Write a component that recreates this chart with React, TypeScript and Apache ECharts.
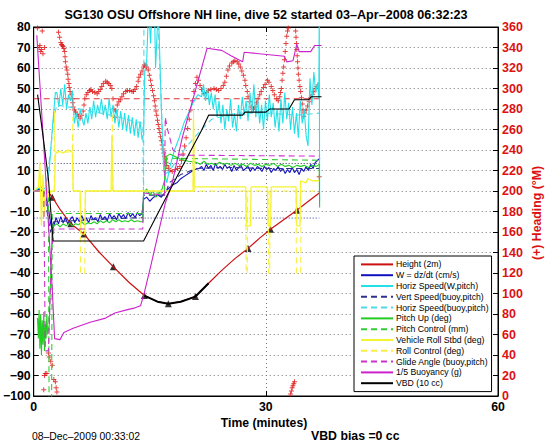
import React, { useEffect, useRef } from "react";
import * as echarts from "echarts";

const FONT = "'Liberation Sans', Arial, Helvetica, sans-serif";

// ---- Height (2m) ----
const heightT = [1.8, 2.4, 3.5, 4.8, 6.5, 8.5, 10.3, 12.3, 14.3, 16.0, 17.4, 19.0, 20.9, 22.6, 24.3, 26.0, 27.7, 29.2, 30.6, 32.3, 34.0, 35.5, 36.9];
const heightV = [0, -3, -9.5, -16, -21, -30, -37, -44.5, -51, -54, -55, -54, -51.5, -45, -38.7, -33, -28, -23, -18.7, -14, -9.4, -5, -1];
const heightMarkerIdx = [1, 3, 4, 6, 8, 10, 12, 16, 18, 20];

// ---- VBD (10 cc) ----
const vbdT = [0.5, 1.2, 1.9, 2.5, 14.2, 18.3, 21.7, 22.6, 27.0, 27.3, 30.0, 30.5, 33.0, 33.7, 35.5, 35.9, 37.2];
const vbdV = [47, 27, 6, -24.4, -24.4, 5.5, 29.6, 37, 37, 38.5, 38.5, 40, 40, 44.5, 44.5, 46, 46];

// ---- 1/5 Buoyancy (g) ----
const buoyT = [0.4, 1.5, 2.4, 2.7, 3.4, 3.9, 5.1, 7.3, 9.3, 10.5, 12.0, 13.1, 13.8, 14.2, 15.1, 16.2, 17.0, 17.9, 19.2, 22.4, 24.3, 25.5, 27.0, 27.2, 32.4, 32.7, 33.5, 34.0, 34.3, 35.8, 36.3, 37.2];
const buoyV = [76, 10, -48, -72, -72.5, -69, -67, -64, -62, -59.5, -58, -57, -56, -51, -37, -19, -6, 4, 26, 69.6, 68.6, 66, 63, 67.7, 65.7, 63, 63.5, 71.6, 68, 68, 71, 71];

// ---- W = dz/dt (cm/s) ----
const wPreT = [0, 0.8, 1.4, 1.8, 2.2, 2.4];
const wPreV = [0, 1, -1, -6, -16, -19];
const wDescStart = 2.6, wStep = 0.3;
const wDescV = [-17, -13, -16, -12.5, -15.5, -13, -16, -14, -12.5, -15.5, -13, -15, -12, -14.5, -13, -15.5, -12, -14, -13, -15, -11.5, -14, -12.5, -14.5, -11, -13.5, -12, -14, -11, -13, -11.5, -13.5, -10.5, -12.5, -11, -13, -10.5, -12, -11];
const wMidT = [14.2, 14.6, 15.0, 15.5, 16.0, 16.5, 17.0, 17.5, 18.0, 18.5, 19.0, 19.6, 20.2, 20.8, 21.4];
const wMidV = [-4, -3, -5, -3, -2, -3, -0.5, 1.5, 3, 4, 6, 7.5, 9, 10.5, 11];
const wAscStart = 21.7;
const wAscV = [12, 10, 13, 11, 12.5, 10, 13.5, 11, 12, 10.5, 13, 11, 12, 9.5, 12.5, 10, 11.5, 12.5, 10, 11, 12, 9.5, 11.5, 10, 12, 11, 9.5, 12, 10.5, 11.5, 9, 11, 10, 12, 9.5, 11, 8.5, 10.5, 9, 11.5, 9, 10.5, 8, 11, 9.5, 12, 10, 13, 11, 14, 15];
const wEndT = [37.0];
const wEndV = [16];

// ---- Horiz Speed (W,pitch) ----
const hsPreT = [0, 1.0, 1.5, 2.0, 2.4, 2.8];
const hsPreV = [0, 2, 1, 10, 30, 48];
const hsDescStart = 3.0, hsStep = 0.25;
const hsDescV = [48, 41, 50, 42, 52, 40, 47, 44, 49, 33, 38, 31, 40, 35, 32, 38, 33, 41, 35, 44, 36, 42, 38, 45, 37, 42, 35, 45, 36, 42, 33, 40, 31, 39, 30, 38, 29, 37, 28, 36, 27, 35, 26, 34, 25];
const hsMidT = [14.2, 14.35, 14.6, 14.85, 15.1, 15.3, 15.6, 15.75, 16.1, 16.5, 16.8, 17.2, 17.6, 18.2, 18.8, 19.4, 20.0, 20.6, 21.2];
const hsMidV = [28, 58, 63, 90, 72, 90, 90, 60, 90, 40, 10, 4, 12, 20, 26, 33, 38, 43, 47];
const hsAscStart = 21.7;
const hsAscV = [46, 52, 44, 50, 42, 48, 40, 47, 36, 44, 33, 42, 30, 40, 34, 45, 31, 38, 29, 42, 35, 46, 37, 44, 34, 48, 38, 52, 36, 45, 33, 42, 30, 44, 34, 47, 36, 43, 31, 40, 29, 45, 33, 48, 35, 43, 30, 41, 28, 38, 26, 44, 33, 40, 27, 22, 55, 42, 58, 48, 53];
const hsEndT = [36.85, 36.9, 36.95];
const hsEndV = [45, 90, -5];

// ---- Vert Speed (buoy,pitch) ----
const vsbT = [0, 1.4, 1.8, 2.2, 2.6, 5, 10, 14.1, 14.2, 17, 17.5, 19, 21, 25, 30, 36.9];
const vsbV = [0, 0, -12, -20, -15, -14.5, -13.5, -13, -2, -2, 4, 8, 11, 11.5, 11, 11];

// ---- Horiz Speed (buoy,pitch) ----
const hsbT = [0, 1.5, 2.2, 2.6, 3.0, 6.0, 10.0, 14.1, 14.2, 14.25, 16.0, 16.5, 16.9, 17.6, 19.0, 20.5, 21.7, 23.0, 26.0, 30.0, 34.0, 36.9];
const hsbV = [0, 0, 20, 36, 42, 40, 37, 33, -5, 90, 90, 40, 8, 10, 18, 25, 30, 35, 38, 38, 37, 38];

// ---- Pitch Up (deg) ----
const pPreT = [0.5, 0.6, 0.7, 0.8, 0.9, 1.0, 1.1, 1.2, 1.3, 1.4, 1.5, 1.6, 1.7, 1.8, 2.0, 2.2, 2.4];
const pPreV = [-62, -72, -58, -77, -60, -80, -63, -75, -59, -78, -65, -72, -60, -70, -66, -40, -18];
const pDescStart = 2.6, pDescStep = 0.4;
const pDescV = [-17, -16, -17.5, -16, -17, -15.5, -17, -16, -16.5, -15, -16.5, -15.5, -16, -15, -16, -14.5, -15.5, -14.5, -15.5, -14, -15, -14, -15, -14.5, -15, -14, -15, -14.5, -15];
const pMidT = [14.1, 14.2, 14.6, 15.0, 15.4, 15.8, 16.2, 16.6, 16.9, 17.2, 17.6, 18.2, 19.0, 20.0];
const pMidV = [-15, -1, 1, -2, 0, -3, -1, 1, 5, 17, 18, 17, 15.5, 14.5];
const pAscStart = 21.0, pAscStep = 0.5;
const pAscV = [14, 13, 14.5, 13, 13.5, 12.5, 14, 13, 13.5, 12.5, 13.5, 12.5, 13, 12, 13.5, 12.5, 13, 12, 13, 12.5, 13.5, 12, 13, 12, 12.5, 11.5, 12.5, 12, 12.5, 11.5, 12.5, 12];
const pEndT = [36.9, 36.95];
const pEndV = [13, -8];

// ---- Pitch Control (mm) ----
const pcT = [0, 1.9, 2.0, 2.3, 2.4, 14.1, 14.2, 16.9, 17.0, 36.9];
const pcV = [0, 0, -120, -120, -11, -11, -1, -1, 16, 15];

// ---- Vehicle Roll Stbd (deg) ----
const rollT = [0, 0.6, 0.8, 1.0, 1.2, 1.4, 1.6, 1.9, 2.2, 2.7, 2.8, 3.3, 3.8, 4.4, 5.0, 5.1, 6.0, 6.1, 6.6, 6.7, 10.0, 10.1, 10.25, 20.6, 20.65, 20.75, 27.4, 27.5, 28.0, 28.1, 30.2, 30.3, 30.6, 30.7, 33.9, 34.0, 34.4, 34.5, 35.2, 35.4, 36.0, 36.9];
const rollV = [0, 2, 14, -17, 8, -12, 5, -3, 0, 0, 18, 19.5, 18.5, 20, 19, 0, 0, -21, -21, 0, 0, 27, 0, 0, 35, 2, 2, -17, -17, 2, 2, -17, -17, 2, 2, -17, -17, 5, 4, 6, 5, 5];

// ---- Roll Control (deg) ----
const rcT = [0, 2.65, 2.7, 2.75, 5.0, 5.05, 5.1, 6.0, 6.05, 6.6, 6.65, 10.1, 10.15, 10.25, 20.6, 20.65, 20.75, 27.4, 27.45, 27.6, 27.65, 30.3, 30.35, 30.5, 30.55, 33.9, 33.95, 34.5, 34.55, 36.9];
const rcV = [0, 0, 39, 19, 19, 36, 0, 0, -40, -40, 0, 0, 38, 0, 0, 39, 0, 0, -40, -40, 0, 0, -40, -40, 0, 0, -40, -40, 0, 0];

// ---- Glide Angle (buoy,pitch) ----
const gaT = [0, 1.3, 1.5, 1.9, 2.3, 2.6, 14.1, 14.2, 16.9, 17.0, 17.3, 18.0, 19.0, 36.9];
const gaV = [0, 0, -78, -78, -30, -18.5, -18.5, -1, -2, 36, 30, 20, 17.5, 17];

// ---- Reference lines ----
const refRedT = [0, 36.9];
const refRedV = [45, 45];
const refUpT = [0, 36.9];
const refUpV = [13.4, 13.4];
const refDownT = [0, 36.9];
const refDownV = [-13.2, -13.2];

// ---- Heading (right axis, deg M) ----
const headT = [0.5, 1.1, 0.7, 0.8, 0.9, 1.0, 1.2, 1.4,
  1.3, 1.5, 1.4, 1.7, 1.9, 2.0, 2.2, 2.4, 2.6, 2.8, 2.9, 3.0,
  3.2, 3.35, 3.5, 3.6, 3.7, 3.8, 3.9, 4.0, 4.05, 4.1, 4.2, 4.3, 4.4, 4.45, 4.55, 4.6, 4.7, 4.85, 5.0, 5.05, 5.1, 5.25, 5.4, 5.6, 5.8, 6.0,
  6.2, 6.4, 6.5, 6.6, 6.8, 7.0, 7.2, 7.4, 7.6, 7.9, 8.2, 8.4, 8.6, 8.8, 9.0, 9.3, 9.5, 9.7, 9.9, 10.1, 10.25, 10.35, 10.45, 10.6, 10.8, 11.0, 11.2, 11.4, 11.6, 11.9, 12.1, 12.4, 12.7, 12.9, 13.1, 13.3, 13.5, 13.6, 13.8, 14.0, 14.2, 14.3,
  14.4, 14.6, 14.8, 14.95, 15.1, 15.2, 15.35, 15.5, 15.6, 15.7, 15.8, 15.9, 16.0, 16.1, 16.2, 16.3, 16.4, 16.5, 16.6, 16.7, 16.8, 16.9, 17.0, 17.1, 17.2, 17.4, 17.6, 17.9, 18.3, 18.6, 18.9, 19.1, 19.3, 19.5, 19.7, 19.9, 20.1, 20.3, 20.5, 20.7, 20.9, 21.1,
  21.3, 21.5, 21.7, 22.0, 22.3, 22.6, 22.9, 23.3, 23.6, 23.9, 24.2, 24.5, 24.7, 24.9, 25.1, 25.3, 25.6, 25.8, 26.0, 26.3, 26.5, 26.7, 26.9, 27.1, 27.3, 27.4, 27.6, 27.7, 27.9, 28.1, 28.4, 28.6, 28.8, 29.0, 29.2, 29.4, 29.7, 29.9, 30.2, 30.4, 30.7, 30.9, 31.1, 31.4, 31.6, 31.8, 31.9,
  32.0, 32.1, 32.2, 32.3, 32.4, 32.5, 32.6, 32.7, 32.8, 32.9, 33.2, 33.3, 33.4, 33.5, 33.6, 33.7, 33.85, 33.9, 33.95, 34.0, 34.05, 34.1, 34.15, 34.2, 34.3, 34.4, 34.5, 34.6, 34.7, 34.8, 34.9, 35.0, 35.2, 35.4, 35.6, 35.8, 36.0, 36.2, 36.4, 36.6, 36.9];
const headV = [359, 356, 340, 342, 336, 338, 334, 340,
  6, 22, 20, 22, 42, 38, 34, 30, 16, 14, 8, 4,
  355, 350, 345, 343, 342, 341, 339, 336, 331, 326, 321, 318, 314, 309, 305, 301, 297, 294, 290, 286, 282, 279, 277, 275, 273, 271,
  274, 278, 284, 290, 294, 296, 298, 299, 297, 296, 295, 297, 299, 302, 305, 307, 306, 305, 303, 300, 290, 280, 272, 278, 284, 287, 289, 292, 295, 297, 298, 298, 297, 297, 299, 302, 307, 311, 314, 317, 321, 323,
  323, 321, 318, 313, 308, 303, 298, 293, 288, 283, 278, 274, 269, 265, 261, 257, 253, 249, 245, 241, 237, 234, 231, 228, 225, 222, 220, 219, 221, 222, 224, 230, 236, 244, 252, 261, 270, 279, 288, 297, 305, 311,
  308, 303, 299, 295, 296, 298, 299, 300, 299, 298, 300, 303, 306, 312, 318, 322, 325, 326, 327, 326, 324, 321, 317, 313, 308, 303, 297, 292, 287, 282, 280, 282, 286, 290, 294, 297, 301, 304, 308, 306, 302, 298, 294, 290, 288, 292, 296,
  300, 308, 315, 321, 328, 336, 344, 351, 356, 359, 2, 5, 8, 10, 12, 14, 356, 350, 344, 338, 332, 326, 320, 314, 308, 302, 297, 291, 285, 279, 273, 276, 279, 283, 287, 291, 294, 297, 300, 302, 214];

// ---- axis ticks ----
const xTicks = [0, 30, 60];
const leftTicks = { min: -100, max: 80, step: 10 };
const rightTicks = { min: 0, max: 360, step: 20 };

const zip = (ts: number[], vs: number[]) => ts.map((t, i) => [t, vs[i]]);
const seq = (t0: number, dt: number, vs: number[]) => vs.map((v, i) => [Math.round((t0 + i * dt) * 1000) / 1000, v]);

const wData = [...zip(wPreT, wPreV), ...seq(wDescStart, wStep, wDescV), ...zip(wMidT, wMidV), ...seq(wAscStart, wStep, wAscV), ...zip(wEndT, wEndV)];
const hsData = [...zip(hsPreT, hsPreV), ...seq(hsDescStart, hsStep, hsDescV), ...zip(hsMidT, hsMidV), ...seq(hsAscStart, hsStep, hsAscV), ...zip(hsEndT, hsEndV)];
const pData = [...zip(pPreT, pPreV), ...seq(pDescStart, pDescStep, pDescV), ...zip(pMidT, pMidV), ...seq(pAscStart, pAscStep, pAscV), ...zip(pEndT, pEndV)];
const heightData = zip(heightT, heightV);

const DASH = [6, 4];

function lineSeries(name: string, data: number[][], color: string, dashed = false, width = 1.1, extra: any = {}) {
  return {
    type: "line",
    name,
    data,
    yAxisIndex: 0,
    symbol: "none",
    showSymbol: false,
    silent: true,
    clip: true,
    lineStyle: { color, width, type: dashed ? DASH : "solid" },
    itemStyle: { color },
    emphasis: { disabled: true },
    ...extra,
  };
}

const legendNames = [
  "Height (2m)",
  "W = dz/dt (cm/s)",
  "Horiz Speed(W,pitch)",
  "Vert Speed(buoy,pitch)",
  "Horiz Speed(buoy,pitch)",
  "Pitch Up (deg)",
  "Pitch Control (mm)",
  "Vehicle Roll Stbd (deg)",
  "Roll Control (deg)",
  "Glide Angle (buoy,pitch)",
  "1/5 Buoyancy (g)",
  "VBD (10 cc)",
];

const minus = (v: number) => String(v).replace("-", "\u2212");

export default function App() {
  const ref = useRef<HTMLDivElement>(null);
  useEffect(() => {
    if (!ref.current) return;
    const chart = echarts.init(ref.current, null, { renderer: "svg" });
    const option: any = {
      animation: false,
      backgroundColor: "#ffffff",
      grid: { left: 31, right: 48, top: 27, bottom: 46, show: true, borderColor: "#000", borderWidth: 1, backgroundColor: "transparent" },
      xAxis: [
        {
          type: "value",
          min: xTicks[0],
          max: xTicks[xTicks.length - 1],
          interval: xTicks[1] - xTicks[0],
          position: "bottom",
          axisLine: { show: true, onZero: false, lineStyle: { color: "#000", width: 1 } },
          axisTick: { show: true, inside: true, length: 5, lineStyle: { color: "#000" } },
          axisLabel: { color: "#000", fontFamily: FONT, fontWeight: "bold", fontSize: 12.3, margin: 5 },
          splitLine: { show: true, lineStyle: { color: "#777", type: [1, 3], width: 1 } },
        },
        {
          type: "value",
          min: xTicks[0],
          max: xTicks[xTicks.length - 1],
          interval: xTicks[1] - xTicks[0],
          position: "top",
          axisLine: { show: true, onZero: false, lineStyle: { color: "#000", width: 1 } },
          axisTick: { show: true, inside: true, length: 5, lineStyle: { color: "#000" } },
          axisLabel: { show: false },
          splitLine: { show: false },
        },
      ],
      yAxis: [
        {
          type: "value",
          min: leftTicks.min,
          max: leftTicks.max,
          interval: leftTicks.step,
          position: "left",
          axisLine: { show: true, onZero: false, lineStyle: { color: "#000", width: 1 } },
          axisTick: { show: true, inside: true, length: 5, lineStyle: { color: "#000" } },
          axisLabel: { color: "#000", fontFamily: FONT, fontWeight: "bold", fontSize: 12.3, margin: 3, formatter: minus },
          splitLine: { show: true, lineStyle: { color: "#777", type: [1, 3], width: 1 } },
        },
        {
          type: "value",
          min: rightTicks.min,
          max: rightTicks.max,
          interval: rightTicks.step,
          position: "right",
          axisLine: { show: true, onZero: false, lineStyle: { color: "#000", width: 1 } },
          axisTick: { show: true, inside: true, length: 5, lineStyle: { color: "#000" } },
          axisLabel: { color: "#dd1111", fontFamily: FONT, fontWeight: "bold", fontSize: 12.5, margin: 4 },
          splitLine: { show: false },
        },
      ],
      legend: {
        data: legendNames,
        orient: "vertical",
        left: 354,
        top: 256,
        itemWidth: 32,
        itemHeight: 8,
        itemGap: 0,
        padding: [3, 3, 3, 6],
        selectedMode: false,
        backgroundColor: "#fff",
        borderColor: "#000",
        borderWidth: 1,
        itemStyle: { opacity: 0, color: "transparent", borderWidth: 0 },
        textStyle: { fontFamily: FONT, fontSize: 8.7, color: "#000", lineHeight: 10.8, padding: [0, 0, 0, -2] },
      },
      graphic: [
        { type: "text", x: 266, y: 14.5, style: { text: "SG130 OSU Offshore NH line, dive 52 started 03\u2013Apr\u20132008 06:32:23", font: `bold 12.6px ${FONT}`, fill: "#000", textAlign: "center", textVerticalAlign: "middle", align: "center", verticalAlign: "middle" } },
        { type: "text", x: 264, y: 423, style: { text: "Time (minutes)", font: `bold 12.2px ${FONT}`, fill: "#000", textAlign: "center", textVerticalAlign: "middle", align: "center", verticalAlign: "middle" } },
        { type: "text", x: 32, y: 436.5, style: { text: "08\u2013Dec\u20132009 00:33:02", font: `10.4px ${FONT}`, fill: "#000", textAlign: "left", textVerticalAlign: "middle", align: "left", verticalAlign: "middle" } },
        { type: "text", x: 311, y: 436, style: { text: "VBD bias =0 cc", font: `bold 12.3px ${FONT}`, fill: "#000", textAlign: "left", textVerticalAlign: "middle", align: "left", verticalAlign: "middle" } },
        { type: "text", x: 537, y: 213, rotation: Math.PI / 2, style: { text: "(+) Heading (\u00B0M)", font: `bold 12.3px ${FONT}`, fill: "#dd1111", textAlign: "center", textVerticalAlign: "middle", align: "center", verticalAlign: "middle" } },
      ],
      series: [
        lineSeries("refRed", zip(refRedT, refRedV), "#dd3333", true, 1.2),
        lineSeries("refUp", zip(refUpT, refUpV), "#333366", false, 1, { lineStyle: { color: "#333366", width: 1, type: [1, 2] } }),
        lineSeries("refDown", zip(refDownT, refDownV), "#3333aa", false, 1, { lineStyle: { color: "#3333aa", width: 1, type: [1, 2] } }),
        lineSeries(legendNames[0], heightData, "#cc1111", false, 1.2),
        lineSeries(legendNames[1], wData, "#1010c0", false, 1.1),
        lineSeries(legendNames[2], hsData, "#22e0e8", false, 1.1),
        lineSeries(legendNames[3], zip(vsbT, vsbV), "#303090", true, 1.1),
        lineSeries(legendNames[4], zip(hsbT, hsbV), "#50d8e8", true, 1.1),
        lineSeries(legendNames[5], pData, "#22cc22", false, 1.1),
        lineSeries(legendNames[6], zip(pcT, pcV), "#33cc33", true, 1.1),
        lineSeries(legendNames[7], zip(rollT, rollV), "#f4f430", false, 1.3),
        lineSeries(legendNames[8], zip(rcT, rcV), "#f8f040", true, 1.1),
        lineSeries(legendNames[9], zip(gaT, gaV), "#cc33cc", true, 1.1),
        lineSeries(legendNames[10], zip(buoyT, buoyV), "#cc22cc", false, 1.1),
        lineSeries(legendNames[11], zip(vbdT, vbdV), "#000000", false, 1.1),
        lineSeries("heightOverlay", heightData.slice(8, 14), "#000000", false, 2),
        {
          type: "scatter",
          name: "Heading",
          yAxisIndex: 1,
          data: zip(headT, headV),
          symbol: "path://M2,0H3V2H5V3H3V5H2V3H0V2H2Z",
          symbolSize: 5,
          itemStyle: { color: "#dd1111" },
          silent: true,
          clip: true,
        },
        {
          type: "scatter",
          name: "HeightMarkers",
          yAxisIndex: 0,
          data: heightMarkerIdx.map((i) => heightData[i]),
          symbol: "triangle",
          symbolSize: 7,
          itemStyle: { color: "#000" },
          silent: true,
        },
      ],
    };
    chart.setOption(option);
    return () => chart.dispose();
  }, []);
  return <div ref={ref} style={{ position: "fixed", left: 0, top: 0, width: 546, height: 442, background: "#fff" }} />;
}
